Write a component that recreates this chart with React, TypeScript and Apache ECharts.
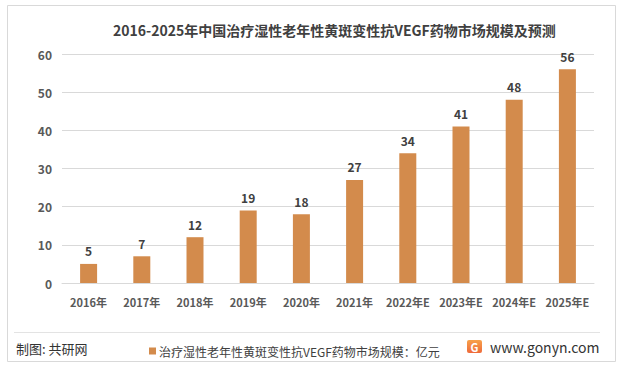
import React, { useEffect, useRef } from "react";
import * as echarts from "echarts";

const categories = ["2016年", "2017年", "2018年", "2019年", "2020年", "2021年", "2022年E", "2023年E", "2024年E", "2025年E"];
const values = [5, 7, 12, 19, 18, 27, 34, 41, 48, 56];
const seriesName = "治疗湿性老年性黄斑变性抗VEGF药物市场规模：亿元";
const titleText = "2016-2025年中国治疗湿性老年性黄斑变性抗VEGF药物市场规模及预测";
const sourceText = "制图: 共研网";
const siteText = "www.gonyn.com";

const FONT = "'Noto Sans CJK SC', 'Microsoft YaHei', sans-serif";

export default function App() {
  const ref = useRef<HTMLDivElement>(null);
  useEffect(() => {
    if (!ref.current) return;
    const chart = echarts.init(ref.current, undefined, { renderer: "svg" });
    chart.setOption({
      animation: false,
      backgroundColor: "#ffffff",
      textStyle: { fontFamily: FONT },
      title: {
        text: titleText,
        left: 108,
        top: 18,
        textStyle: { fontSize: 14, fontWeight: "bold", color: "#404040", fontFamily: FONT },
      },
      grid: { left: 62, right: 28, top: 54, bottom: 88, containLabel: false },
      legend: {
        data: [seriesName],
        left: 144,
        top: 340,
        icon: "rect",
        itemWidth: 7,
        itemHeight: 7,
        itemGap: 4,
        textStyle: { fontSize: 12, color: "#404040", fontFamily: FONT, padding: [0, 0, 0, -2] },
      },
      xAxis: {
        type: "category",
        data: categories,
        axisTick: { show: false },
        axisLine: { lineStyle: { color: "#d9d9d9" } },
        axisLabel: { interval: 0, fontSize: 11, fontWeight: "bold", color: "#595959", margin: 13, fontFamily: FONT },
      },
      yAxis: {
        type: "value",
        min: 0,
        max: 60,
        interval: 10,
        axisLine: { show: false },
        axisTick: { show: false },
        splitLine: { lineStyle: { color: "#d9d9d9" } },
        axisLabel: { fontSize: 12, fontWeight: "bold", color: "#595959", margin: 10, fontFamily: FONT },
      },
      series: [
        {
          name: seriesName,
          type: "bar",
          data: values,
          barWidth: 17,
          itemStyle: { color: "#D38B4C" },
          label: {
            show: true,
            position: "top",
            distance: 7,
            fontSize: 12,
            fontWeight: "bold",
            color: "#404040",
            fontFamily: FONT,
          },
        },
      ],
      graphic: [
        {
          type: "rect",
          shape: { x: 7.5, y: 5.5, width: 608, height: 356 },
          style: { fill: "none", stroke: "#d9d9d9", lineWidth: 1 },
          silent: true,
        },
        {
          type: "line",
          shape: { x1: 14, y1: 332.5, x2: 600, y2: 332.5 },
          style: { stroke: "#e3e3e3", lineWidth: 1 },
          silent: true,
        },
        {
          type: "text",
          x: 16,
          y: 348,
          style: { text: sourceText, fontSize: 13, fill: "#333333", fontFamily: FONT, verticalAlign: "middle" },
        },
        {
          type: "rect",
          shape: { x: 467, y: 340, width: 15, height: 13, r: 2 },
          style: {
            fill: new echarts.graphic.LinearGradient(0, 0, 0, 1, [
              { offset: 0, color: "#f7a14a" },
              { offset: 1, color: "#ee6a3a" },
            ]),
          },
        },
        {
          type: "text",
          x: 474.5,
          y: 347,
          style: { text: "G", fontSize: 11, fontWeight: "bold", fill: "#ffffff", align: "center", verticalAlign: "middle", fontFamily: FONT },
        },
        {
          type: "text",
          x: 490,
          y: 347,
          style: { text: siteText, fontSize: 14, fill: "#333333", fontFamily: FONT, verticalAlign: "middle" },
        },
      ],
    });
    return () => chart.dispose();
  }, []);
  return <div ref={ref} style={{ position: "fixed", left: 0, top: 0, width: 622, height: 371 }} />;
}
